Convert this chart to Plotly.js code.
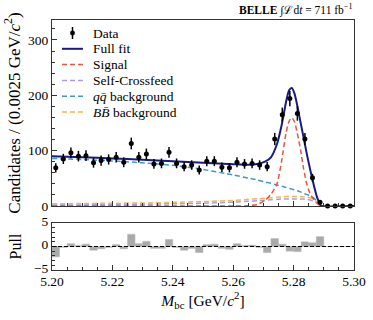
<!DOCTYPE html>
<html>
<head>
<meta charset="utf-8">
<script src="https://cdn.plot.ly/plotly-3.0.1.min.js"></script>
<style>
  html, body { margin: 0; padding: 0; background: #fff; }
  #chart { width: 373px; height: 320px; }
</style>
</head>
<body>
<div id="chart"></div>
<script>
// bin centres, 0.0025 GeV wide bins
const binCentres = [
  5.20125, 5.20375, 5.20625, 5.20875, 5.21125, 5.21375, 5.21625, 5.21875, 5.22125, 5.22375,
  5.22625, 5.22875, 5.23125, 5.23375, 5.23625, 5.23875, 5.24125, 5.24375, 5.24625, 5.24875,
  5.25125, 5.25375, 5.25625, 5.25875, 5.26125, 5.26375, 5.26625, 5.26875, 5.27125, 5.27375,
  5.27625, 5.27875, 5.28125, 5.28375, 5.28625, 5.28875, 5.29125, 5.29375, 5.29625, 5.29875
]
const counts = [
  69, 85, 96, 90, 91, 78, 82, 84, 88, 79,
  113, 88, 94, 76, 77, 97, 77, 71, 74, 65,
  81, 81, 70, 69, 79, 76, 77, 74, 71, 121,
  165, 194, 167, 121, 51, 7, 0, 0, 0, 0
]
const countErrors = [
  8.3, 9.2, 9.8, 9.5, 9.5, 8.8, 9.1, 9.2, 9.4, 8.9,
  10.6, 9.4, 9.7, 8.7, 8.8, 9.8, 8.8, 8.4, 8.6, 8.1,
  9.0, 9.0, 8.4, 8.3, 8.9, 8.7, 8.8, 8.6, 8.4, 11.0,
  12.8, 13.9, 12.9, 11.0, 7.1, 2.6, 0, 0, 0, 0
]
const pulls = [
  -2.2, -0.2, 0.6, 0.2, 0.5, -0.8, -0.5, -0.2, 0.4, -0.5,
  2.6, 0.6, 1.1, -0.4, -0.4, 1.5, -0.2, -0.8, -0.4, -1.3,
  0.4, 0.5, -0.4, -0.6, 0.6, 0.2, 0.3, -0.2, -1.3, 1.7,
  0.5, -1.0, -1.1, 1.0, 0.8, 2.1, 0, 0, 0, 0
]

// fit components
const fitX = [
  5.200, 5.210, 5.220, 5.230, 5.240, 5.250, 5.260, 5.265, 5.268, 5.2705,
  5.2725, 5.2745, 5.276, 5.2775, 5.2785, 5.2794, 5.2803, 5.2812, 5.2823, 5.2833,
  5.2843, 5.2854, 5.2865, 5.2877, 5.2886, 5.2892, 5.300
]
const fullFit = [
  90, 88, 86, 83.5, 81, 78, 75.5, 74.5, 76, 80,
  88, 112, 145, 188, 209, 213, 203, 182, 151, 124,
  96, 68, 42, 17, 5, 0, 0
]
const signal = [
  0, 0, 0, 0, 0, 0, 0, 0.5, 3, 10,
  21, 40, 80, 132, 153, 159.5, 152, 132, 102, 68,
  41, 23, 13, 6, 1.5, 0, 0
]
const selfCrossfeed = [
  1.5, 2, 2.5, 3, 4, 5, 7, 8.5, 9.5, 10.5,
  11.5, 12, 12.5, 12.5, 12.5, 12.5, 12.5, 12.5, 12.5, 12.5,
  12, 11, 9, 5, 2, 0, 0
]
const qqBackground = [
  86, 84, 81.5, 78, 73.5, 66, 56, 50.5, 47, 43.5,
  41, 38, 36, 33.5, 32, 30.5, 29, 27.5, 25.5, 23,
  21, 18.5, 15, 9, 3.5, 0, 0
]
const bbBackground = [
  4, 4.5, 5, 5.5, 6.5, 8, 10, 12, 13, 14,
  15, 16, 16.5, 17, 17, 17, 17, 17, 17, 16.5,
  16, 15, 12.5, 7, 2.5, 0, 0
]

const legendNames = ['Data', 'Full fit', 'Signal', 'Self-Crossfeed', '<i>qq̄</i> background', '<i>BB̄</i> background']
const colors = {
  full: '#1a1a86', signal: '#e8563e', scf: '#a79fe4', qq: '#3b99d0', bb: '#fdb44b'
}

const serif = "'Liberation Serif', 'Times New Roman', serif"
const dashed = '5px,3px'

function component (y, color) {
  return {
    x: fitX, y, mode: 'lines', xaxis: 'x2', yaxis: 'y2', showlegend: false,
    line: {color, width: 1.5, dash: dashed, shape: 'spline', smoothing: 0.6}
  }
}

const traces = [
  component(bbBackground, colors.bb),
  component(qqBackground, colors.qq),
  component(selfCrossfeed, colors.scf),
  component(signal, colors.signal),
  {
    x: fitX, y: fullFit, mode: 'lines', xaxis: 'x2', yaxis: 'y2', showlegend: false,
    line: {color: colors.full, width: 2, shape: 'spline', smoothing: 0.6}
  },
  {
    x: binCentres, y: counts, mode: 'markers', xaxis: 'x2', yaxis: 'y2', showlegend: false,
    marker: {color: '#000', size: 5},
    error_y: {type: 'data', array: countErrors, visible: true, color: '#000', thickness: 1.5, width: 0},
    cliponaxis: false
  },
  {
    x: binCentres, y: pulls, type: 'bar', xaxis: 'x', yaxis: 'y', width: 0.0025,
    marker: {color: '#aaaaaa', line: {color: '#bbbbbb', width: 0.5}},
    showlegend: false
  }
]

// hand-made legend (plotly's own rows are too tall); pixel -> paper
const px = (v) => (v - 52) / 302
const py = (v) => (270 - v) / 250
const rowY = (i) => 33 + i * 15.8
const legendShapes = []
const legendNotes = []
const legendStyles = [null, {c: colors.full, w: 2, d: 'solid'}, {c: colors.signal, w: 1.5, d: dashed},
  {c: colors.scf, w: 1.5, d: dashed}, {c: colors.qq, w: 1.5, d: dashed}, {c: colors.bb, w: 1.5, d: dashed}]
legendNames.forEach((name, i) => {
  const y = rowY(i)
  const st = legendStyles[i]
  if (st) {
    legendShapes.push({type: 'line', xref: 'paper', yref: 'paper', x0: px(62), x1: px(83), y0: py(y), y1: py(y),
      line: {color: st.c, width: st.w, dash: st.d}})
  } else {
    legendShapes.push({type: 'line', xref: 'paper', yref: 'paper', x0: px(72.5), x1: px(72.5), y0: py(y - 6), y1: py(y + 6),
      line: {color: '#000', width: 1.5}})
    legendShapes.push({type: 'circle', xref: 'paper', yref: 'paper', x0: px(70.3), x1: px(74.7), y0: py(y - 2.2), y1: py(y + 2.2),
      fillcolor: '#000', line: {color: '#000', width: 0.5}})
  }
  legendNotes.push({xref: 'paper', yref: 'paper', x: px(91), y: py(y), xanchor: 'left', yanchor: 'middle',
    showarrow: false, text: name, font: {family: serif, size: 13.5, color: '#000'}})
})

const axisCommon = {
  showline: true, mirror: true, linecolor: '#333', linewidth: 1,
  ticks: 'inside', ticklen: 5, tickcolor: '#333',
  showgrid: false, zeroline: false,
  tickfont: {family: serif, size: 13.5, color: '#000'}
}

const layout = {
  width: 373,
  height: 320,
  margin: {l: 52, r: 19, t: 20, b: 50},
  paper_bgcolor: '#fff',
  plot_bgcolor: '#fff',
  font: {family: serif, color: '#000'},
  bargap: 0,
  showlegend: false,
  xaxis: {
    ...axisCommon, domain: [0, 1], anchor: 'y', range: [5.2, 5.3],
    tick0: 5.2, dtick: 0.02, tickformat: '.2f', ticklabelstandoff: -1,
    minor: {dtick: 0.005, ticks: 'inside', ticklen: 3, tickcolor: '#333'},
    title: {text: '<i>M</i><sub>bc</sub> [GeV/<i>c</i><sup>2</sup>]', font: {family: serif, size: 15.5}, standoff: 4}
  },
  yaxis: {
    ...axisCommon, domain: [0, 0.188], anchor: 'x', range: [-5, 5], dtick: 5,
    ticklabelshift: -2,
    minor: {dtick: 1, ticks: 'inside', ticklen: 3, tickcolor: '#333'},
    title: {text: 'Pull', font: {family: serif, size: 16}, standoff: 8}
  },
  xaxis2: {
    ...axisCommon, domain: [0, 1], anchor: 'y2', matches: 'x', range: [5.2, 5.3],
    tick0: 5.2, dtick: 0.02, showticklabels: false,
    minor: {dtick: 0.005, ticks: 'inside', ticklen: 3, tickcolor: '#333'}
  },
  yaxis2: {
    ...axisCommon, domain: [0.256, 1], anchor: 'x2', range: [0, 336], dtick: 100,
    minor: {dtick: 20, ticks: 'inside', ticklen: 3, tickcolor: '#333'},
    title: {text: 'Candidates / (0.0025 GeV/<i>c</i><sup>2</sup>)', font: {family: serif, size: 17}, standoff: 3}
  },
  shapes: [{
    type: 'line', xref: 'x domain', yref: 'y', x0: 0, x1: 1, y0: 0, y1: 0,
    line: {color: '#000', width: 1, dash: '4px,2px'}
  }, ...legendShapes],
  annotations: [{
    xref: 'paper', yref: 'paper', x: 1, y: 1, xanchor: 'right', yanchor: 'bottom',
    yshift: 1, showarrow: false,
    text: '<b>BELLE</b> ∫ℒd<i>t</i> = 711 fb<sup>−1</sup>',
    font: {family: serif, size: 11.5, color: '#000'}
  }, ...legendNotes]
}

Plotly.newPlot('chart', traces, layout, {staticPlot: true})
</script>
</body>
</html>
